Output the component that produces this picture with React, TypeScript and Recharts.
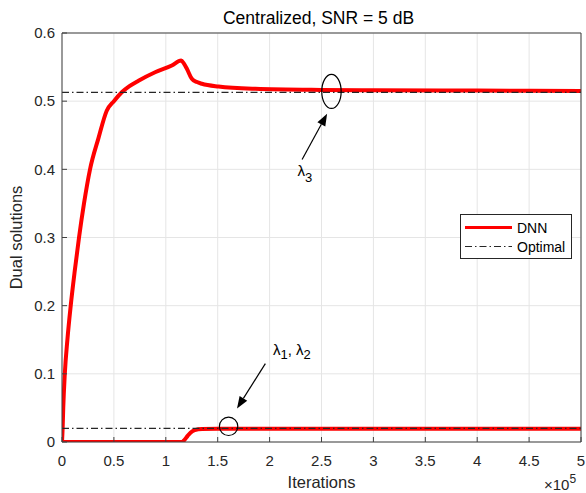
import React from 'react';
import {
  LineChart,
  Line,
  XAxis,
  YAxis,
  CartesianGrid,
  Legend,
  Label,
  ReferenceDot,
  ReferenceLine,
} from 'recharts';

// ── Data ─────────────────────────────────────────────────────────────────────
const ITER_L3 = [0, 600, 1200, 2700, 5200, 8400, 12200, 16400, 21200, 27000, 35000, 43100, 50000, 57600, 65000, 73700, 89700, 105800, 114800, 117500, 120300, 125100, 130000, 134800, 150800, 186200, 250000, 300000, 400000, 500000];
const DNN_L3 = [0, 0.02, 0.05, 0.1, 0.15, 0.2, 0.25, 0.3, 0.35, 0.4, 0.445, 0.486, 0.5, 0.513, 0.522, 0.53, 0.5425, 0.5523, 0.5597, 0.555, 0.5475, 0.5328, 0.528, 0.5255, 0.5215, 0.5182, 0.5165, 0.516, 0.5155, 0.515];

const ITER_L12 = [0, 115500, 118000, 121000, 124000, 128000, 135000, 150000, 500000];
const DNN_L12 = [0, 0, 0.003, 0.009, 0.014, 0.0175, 0.019, 0.0195, 0.0195];

const OPT_ITER = [0, 500000];
const OPT_L3 = 0.513;
const OPT_L12 = 0.02;

const X_TICKS = [0, 50000, 100000, 150000, 200000, 250000, 300000, 350000, 400000, 450000, 500000];
const Y_TICKS = [0, 0.1, 0.2, 0.3, 0.4, 0.5, 0.6];

// annotation anchors, in data units
const L3_MARK = { x: 259600, y: 0.5143 };
const L3_ARROW = [{ x: 231300, y: 0.4145 }, { x: 255400, y: 0.4815 }];
const L3_TEXT = { x: 226800, y: 0.3896 };
const L12_MARK = { x: 160500, y: 0.023 };
const L12_ARROW = [{ x: 195900, y: 0.115 }, { x: 168600, y: 0.049 }];
const L12_TEXT = { x: 203300, y: 0.1271 };

const rows = (xs: number[], ys: number[]) => xs.map((it, i) => ({ it, v: ys[i] }));

const FONT = '"Liberation Sans", Arial, Helvetica, sans-serif';
const INK = '#262626';
const AXIS = '#404040';
const RED = '#ff0000';
const DASHDOT = '7 3 1.5 3';

function Arrow(props: any) {
  const { x1, y1, x2, y2 } = props;
  const a = Math.atan2(y2 - y1, x2 - x1);
  const len = 12;
  const w = 4.5;
  const bx = x2 - len * Math.cos(a);
  const by = y2 - len * Math.sin(a);
  const px = -Math.sin(a) * w;
  const py = Math.cos(a) * w;
  return (
    <g>
      <line x1={x1} y1={y1} x2={bx} y2={by} stroke="#000" strokeWidth={1.2} />
      <polygon points={`${x2},${y2} ${bx + px},${by + py} ${bx - px},${by - py}`} fill="#000" />
    </g>
  );
}

function LegendBox() {
  return (
    <svg width={113} height={46} style={{ display: 'block' }}>
      <rect x={0.5} y={0.5} width={111} height={44} fill="#fff" stroke={INK} strokeWidth={1} />
      <line x1={5} y1={13.5} x2={52} y2={13.5} stroke={RED} strokeWidth={3} />
      <text x={57} y={18.5} fontSize={14} fill="#000" fontFamily={FONT}>DNN</text>
      <line x1={5} y1={32.5} x2={52} y2={32.5} stroke={INK} strokeWidth={1.2} strokeDasharray={DASHDOT} />
      <text x={57} y={37.5} fontSize={14} fill="#000" fontFamily={FONT}>Optimal</text>
    </svg>
  );
}

export default function App() {
  return (
    <div style={{ position: 'absolute', left: 0, top: 0, width: 586, height: 493, background: '#fff' }}>
      <LineChart
        width={586}
        height={493}
        margin={{ top: 32, right: 4, bottom: 0, left: 0 }}
        style={{ fontFamily: FONT }}
      >
        <CartesianGrid stroke="#e5e5e5" strokeWidth={1} />
        <XAxis
          dataKey="it"
          type="number"
          domain={[0, 500000]}
          ticks={X_TICKS}
          tickFormatter={(v: number) => `${v / 100000}`}
          height={51}
          tickSize={-5}
          tickMargin={18}
          axisLine={{ stroke: AXIS }}
          tickLine={{ stroke: AXIS }}
          tick={{ fontSize: 15, fill: INK }}
          allowDataOverflow
        >
          <Label
            content={({ viewBox }: any) => (
              <g fontFamily={FONT}>
                <text x={viewBox.x + viewBox.width / 2} y={488} textAnchor="middle" fontSize={16.5} fill={INK}>
                  Iterations
                </text>
                <text x={544} y={490} fontSize={15} fill={INK}>
                  ×10<tspan fontSize={12} dy={-7}>5</tspan>
                </text>
              </g>
            )}
          />
        </XAxis>
        <XAxis
          xAxisId="top"
          orientation="top"
          type="number"
          domain={[0, 500000]}
          ticks={X_TICKS}
          height={1}
          tickSize={-5}
          tick={false}
          axisLine={{ stroke: AXIS }}
          tickLine={{ stroke: AXIS }}
          allowDataOverflow
        >
          <Label
            content={({ viewBox }: any) => (
              <text
                x={viewBox.x + viewBox.width / 2 - 3}
                y={24}
                textAnchor="middle"
                fontSize={17.5}
                fill="#000"
                fontFamily={FONT}
              >
                Centralized, SNR = 5 dB
              </text>
            )}
          />
        </XAxis>
        <YAxis
          type="number"
          domain={[0, 0.6]}
          ticks={Y_TICKS}
          width={62}
          tickSize={-5}
          tickMargin={12}
          axisLine={{ stroke: AXIS }}
          tickLine={{ stroke: AXIS }}
          tick={{ fontSize: 15, fill: INK }}
          allowDataOverflow
        >
          <Label
            content={({ viewBox }: any) => {
              const cx = viewBox.x + 22;
              const cy = viewBox.y + viewBox.height / 2;
              return (
                <text
                  x={cx}
                  y={cy}
                  transform={`rotate(-90 ${cx} ${cy})`}
                  textAnchor="middle"
                  fontSize={16.5}
                  fill={INK}
                  fontFamily={FONT}
                >
                  Dual solutions
                </text>
              );
            }}
          />
        </YAxis>
        <YAxis
          yAxisId="right"
          orientation="right"
          type="number"
          domain={[0, 0.6]}
          ticks={Y_TICKS}
          width={1}
          tickSize={-5}
          tick={false}
          axisLine={{ stroke: AXIS }}
          tickLine={{ stroke: AXIS }}
          allowDataOverflow
        />

        <Line
          data={rows(ITER_L3, DNN_L3)}
          dataKey="v"
          type="monotone"
          stroke={RED}
          strokeWidth={4}
          dot={false}
          isAnimationActive={false}
        />
        <Line
          data={rows(ITER_L12, DNN_L12)}
          dataKey="v"
          type="monotone"
          stroke={RED}
          strokeWidth={4}
          dot={false}
          isAnimationActive={false}
        />
        <Line
          data={rows(OPT_ITER, OPT_ITER.map(() => OPT_L3))}
          dataKey="v"
          type="linear"
          stroke={INK}
          strokeWidth={1.3}
          strokeDasharray={DASHDOT}
          dot={false}
          isAnimationActive={false}
        />
        <Line
          data={rows(OPT_ITER, OPT_ITER.map(() => OPT_L12))}
          dataKey="v"
          type="linear"
          stroke={INK}
          strokeWidth={1.3}
          strokeDasharray={DASHDOT}
          dot={false}
          isAnimationActive={false}
        />

        {/* λ3 annotation */}
        <ReferenceDot
          x={L3_MARK.x}
          y={L3_MARK.y}
          shape={(p: any) => <ellipse cx={p.cx} cy={p.cy} rx={9.7} ry={17} fill="none" stroke="#000" strokeWidth={1.2} />}
        />
        <ReferenceLine segment={L3_ARROW} shape={(p: any) => <Arrow {...p} />} />
        <ReferenceDot
          x={L3_TEXT.x}
          y={L3_TEXT.y}
          shape={(p: any) => (
            <text x={p.cx} y={p.cy} fontSize={15} fill="#000" fontFamily={FONT}>
              λ<tspan fontSize={13} dy={6}>3</tspan>
            </text>
          )}
        />

        {/* λ1, λ2 annotation */}
        <ReferenceDot
          x={L12_MARK.x}
          y={L12_MARK.y}
          shape={(p: any) => <circle cx={p.cx} cy={p.cy} r={9.2} fill="none" stroke="#000" strokeWidth={1.2} />}
        />
        <ReferenceLine segment={L12_ARROW} shape={(p: any) => <Arrow {...p} />} />
        <ReferenceDot
          x={L12_TEXT.x}
          y={L12_TEXT.y}
          shape={(p: any) => (
            <text x={p.cx} y={p.cy} fontSize={15} fill="#000" fontFamily={FONT}>
              λ<tspan fontSize={13} dy={4}>1</tspan>
              <tspan dy={-4}>, λ</tspan>
              <tspan fontSize={13} dy={4}>2</tspan>
            </text>
          )}
        />

        <Legend
          layout="horizontal"
          verticalAlign="middle"
          align="center"
          wrapperStyle={{ left: 460, top: 214, width: 113, height: 46 }}
          content={() => <LegendBox />}
        />
      </LineChart>
    </div>
  );
}
